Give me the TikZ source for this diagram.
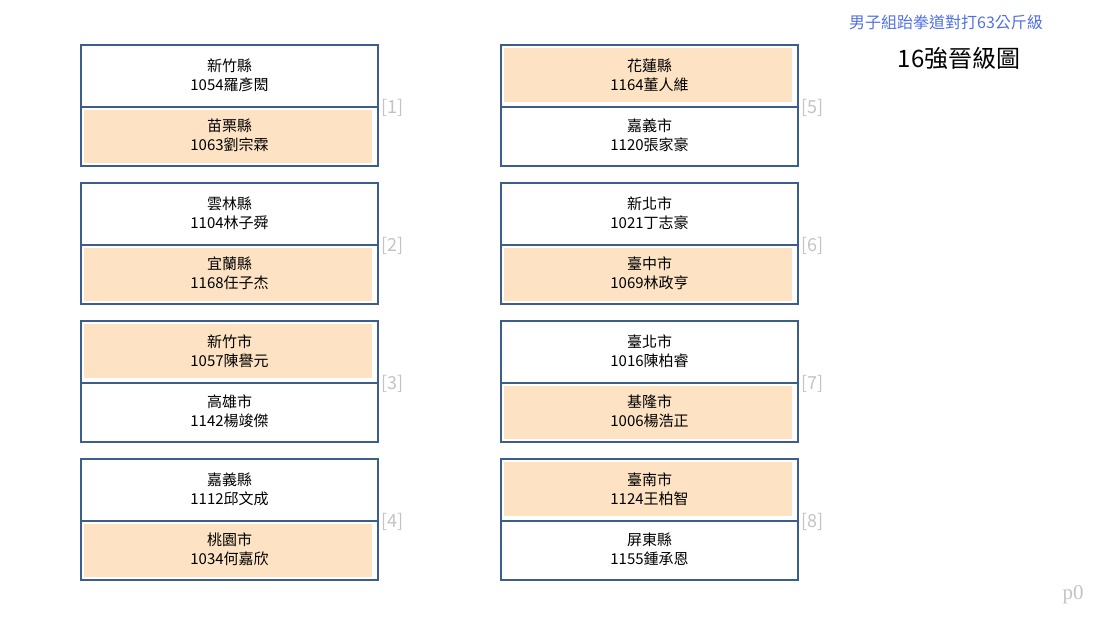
\documentclass[tikz,border=0pt]{standalone}
\usepackage{fontspec}
\setmainfont{Noto Sans CJK TC}
\newfontfamily\serifp{Liberation Serif}
\definecolor{boxline}{RGB}{59,94,140}
\definecolor{winfill}{RGB}{253,227,195}
\definecolor{lblgray}{RGB}{195,195,195}
\definecolor{titleblue}{RGB}{80,112,230}
\tikzset{
  half/.style={draw=boxline, line width=2pt, minimum width=297pt, inner sep=0pt, anchor=north west},
  tophalf/.style={half, minimum height=62pt},
  bothalf/.style={half, minimum height=59pt},
  nametext/.style={align=center, font=\fontsize{15}{19}\selectfont, text=black},
  seedlabel/.style={anchor=west, font=\fontsize{18}{21}\selectfont, text=lblgray, inner sep=0pt},
}
% #1 id, #2 x, #3 y, #4 top name, #5 top id, #6 bottom name, #7 bottom id, #8 filled half (t/b), #9 label
\newcommand{\bracketpair}[9]{%
  \ifx t#8
    \fill[winfill] (#2+4,#3+4) rectangle (#2+292,#3+58);
  \else
    \fill[winfill] (#2+4,#3+66) rectangle (#2+292,#3+119);
  \fi
  \node[tophalf] (#1t) at (#2,#3) {};
  \node[bothalf] (#1b) at (#2,#3+62) {};
  \node[nametext] (#1tt) at ([yshift=1pt]#1t.center) {#4\\#5};
  \node[nametext] (#1bt) at ([yshift=1pt]#1b.center) {#6\\#7};
  \node[seedlabel] (#1l) at ([xshift=2pt]#1t.south east) {[#9]};
}
\begin{document}
\begin{tikzpicture}[x=1pt,y=-1pt]
\useasboundingbox (0,0) rectangle (1103,618);
\bracketpair{a}{80}{44}{新竹縣}{1054羅彥閎}{苗栗縣}{1063劉宗霖}{b}{1}
\bracketpair{b}{80}{182}{雲林縣}{1104林子舜}{宜蘭縣}{1168任子杰}{b}{2}
\bracketpair{c}{80}{320}{新竹市}{1057陳譽元}{高雄市}{1142楊竣傑}{t}{3}
\bracketpair{d}{80}{458}{嘉義縣}{1112邱文成}{桃園市}{1034何嘉欣}{b}{4}
\bracketpair{e}{500}{44}{花蓮縣}{1164董人維}{嘉義市}{1120張家豪}{t}{5}
\bracketpair{f}{500}{182}{新北市}{1021丁志豪}{臺中市}{1069林政亨}{b}{6}
\bracketpair{g}{500}{320}{臺北市}{1016陳柏睿}{基隆市}{1006楊浩正}{b}{7}
\bracketpair{h}{500}{458}{臺南市}{1124王柏智}{屏東縣}{1155鍾承恩}{t}{8}
\node[font=\fontsize{16}{19}\selectfont, text=titleblue] (sub) at (946,22) {男子組跆拳道對打63公斤級};
\node[font=\fontsize{24}{28}\selectfont, text=black] (title) at (959,58) {16強晉級圖};
\node[font=\serifp\fontsize{21}{24}\selectfont, text=lblgray] (page) at (1073,595) {p0};
\end{tikzpicture}
\end{document}
